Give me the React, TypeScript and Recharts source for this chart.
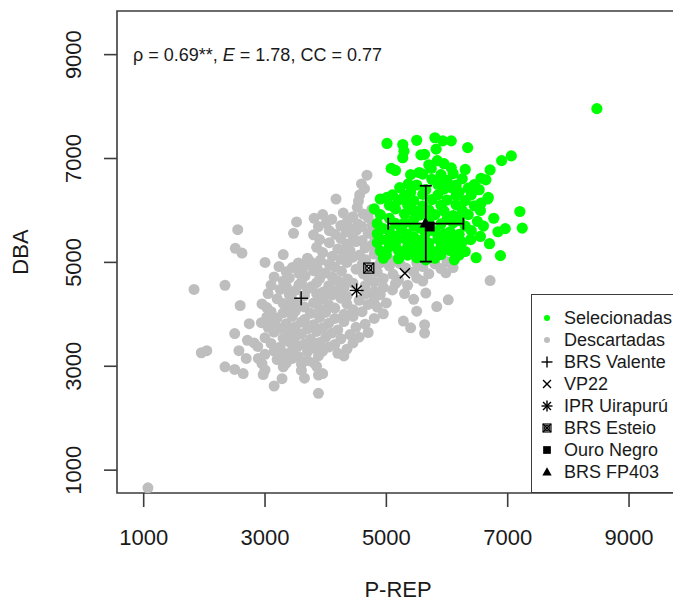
import React from 'react';
import { ScatterChart, Scatter, XAxis, YAxis, ReferenceArea, Legend } from 'recharts';

const FONT = '"Liberation Sans", Arial, Helvetica, sans-serif';
const GREEN = '#00FF00';
const GREY = '#BEBEBE';
const FRAME = '#3c3c3c';

const axisTicks = [1000, 3000, 5000, 7000, 9000];
const axisDomain: [number, number] = [560, 9840];

// Descartadas (grey) — [P-REP, DBA]
const descartadas: [number, number][] = [
  [4680,6680],[4590,6510],[4640,6420],[4560,6300],[4170,6220],[4540,6180],[4520,6060],[4760,6020],[3950,5920],[4290,5950],
  [4450,5880],[4620,5930],[3810,5850],[4100,5830],[4360,5800],[4700,5860],[3520,5780],[4010,5760],[4530,5740],[3880,5690],
  [4250,5710],[4400,5650],[4600,5690],[4770,5720],[2550,5630],[4060,5610],[4340,5590],[4510,5620],[3470,5560],[3800,5530],
  [4160,5540],[4450,5500],[4700,5560],[3900,5440],[4250,5460],[4600,5420],[4810,5480],[4060,5380],[4350,5350],[4500,5400],
  [4760,5330],[2510,5270],[3850,5290],[4200,5260],[4400,5230],[4650,5280],[4870,5240],[2620,5180],[3300,5150],[3950,5190],
  [4110,5120],[4300,5170],[4560,5140],[4800,5160],[3700,5080],[3910,5040],[4250,5060],[4450,5100],[4660,5050],[4920,5080],
  [5100,5030],[3000,5000],[3550,4990],[3750,5010],[4060,4970],[4350,5000],[4600,4960],[4900,4990],[5220,4980],[5500,5000],
  [5800,4970],[6000,5010],[3230,4920],[3450,4900],[3650,4930],[3860,4880],[4150,4910],[4500,4870],[4800,4900],[5050,4930],
  [5320,4890],[5600,4920],[5900,4880],[6100,4900],[3350,4820],[3560,4790],[3800,4840],[4000,4800],[4260,4830],[4620,4780],
  [4850,4810],[5110,4770],[5450,4820],[5700,4780],[5980,4800],[3150,4720],[3400,4700],[3660,4740],[3900,4690],[4110,4720],
  [4360,4680],[4700,4710],[4950,4690],[5200,4660],[5500,4700],[3300,4640],[3600,4620],[3850,4610],[4200,4640],[4450,4600],
  [4800,4620],[5150,4590],[5600,4640],[6710,4650],[2340,4560],[3100,4560],[3350,4540],[3560,4570],[3760,4530],[4050,4550],
  [4300,4510],[4650,4550],[4950,4520],[5350,4560],[1830,4480],[3250,4480],[3500,4460],[3700,4490],[3960,4430],[4200,4470],
  [4800,4440],[5100,4470],[3050,4400],[3400,4380],[3650,4360],[3850,4400],[4100,4370],[4350,4350],[4650,4390],[4900,4380],
  [5300,4400],[5650,4410],[3200,4300],[3450,4280],[3950,4290],[4250,4310],[4550,4270],[4800,4300],[5450,4290],[2950,4200],
  [3300,4210],[3550,4190],[3800,4220],[4050,4180],[4350,4200],[4700,4190],[5000,4220],[5830,4150],[2590,4170],[3030,4130],
  [3400,4110],[3650,4140],[3900,4100],[4150,4120],[4450,4090],[4850,4140],[6020,4280],[3100,4050],[3300,4030],[3500,4060],
  [3750,4020],[4000,4040],[4300,4000],[4600,4050],[4950,4010],[5500,4060],[3030,3950],[3200,3930],[3450,3960],[3650,3900],
  [3900,3940],[4150,3920],[4450,3960],[4800,3920],[2740,3820],[2940,3840],[3150,3860],[3350,3820],[3600,3850],[3800,3800],
  [4050,3830],[4300,3860],[4650,3810],[5280,3870],[5630,3800],[3050,3750],[3250,3730],[3500,3760],[3700,3720],[3950,3740],
  [4200,3700],[4500,3750],[5400,3740],[2500,3630],[3150,3660],[3400,3640],[3600,3620],[3850,3670],[4100,3640],[4400,3610],
  [4700,3650],[5630,3640],[3000,3550],[3300,3540],[3500,3570],[3750,3520],[4000,3560],[4250,3530],[4550,3560],[2710,3500],
  [2820,3450],[3100,3440],[3400,3470],[3650,3430],[3900,3460],[4150,3420],[4450,3450],[2880,3380],[3250,3370],[3550,3390],
  [3800,3350],[4050,3370],[4350,3330],[2040,3300],[2570,3300],[3150,3290],[3450,3310],[3700,3280],[3950,3290],[4200,3250],
  [1950,3260],[3000,3230],[3350,3240],[3250,3180],[3550,3190],[3880,3200],[4300,3200],[2690,3150],[2890,3150],[3200,3130],
  [3450,3150],[3700,3110],[2950,3050],[3350,3060],[3600,3040],[3800,3070],[2340,2990],[3300,2990],[3850,3000],[2500,2940],
  [3000,2930],[3600,2920],[2640,2860],[2970,2840],[3880,2830],[3950,2860],[3280,2760],[3650,2770],[3150,2620],[3880,2480],
  [1070,660],
];

// Selecionadas (green) — [P-REP, DBA]
const selecionadas: [number, number][] = [
  [8470,7960],[5800,7400],[5500,7350],[5930,7340],[6070,7340],[5010,7290],[5270,7270],[6340,7210],[5820,7180],[5290,7140],
  [5570,7070],[5630,7080],[7060,7050],[5270,7015],[5840,6960],[6900,6960],[5950,6900],[5700,6880],[6070,6820],[5080,6810],
  [5740,6810],[6300,6790],[6710,6780],[5150,6770],[5540,6730],[5400,6690],[5600,6700],[5900,6690],[6100,6710],[6560,6620],
  [5750,6600],[6000,6580],[6250,6610],[6640,6590],[5360,6510],[5500,6490],[5850,6500],[6150,6490],[6450,6500],[5220,6440],
  [6070,6440],[6350,6430],[5650,6400],[5950,6410],[6530,6400],[5400,6350],[6200,6350],[5100,6300],[5300,6290],[5600,6310],
  [5850,6300],[6150,6290],[6400,6300],[5010,6250],[6680,6250],[4900,6220],[6670,6220],[5200,6200],[5450,6190],[5750,6210],
  [6000,6200],[6300,6190],[6560,6140],[5050,6100],[5350,6110],[5600,6090],[5900,6100],[6150,6110],[6450,6090],[4800,6030],
  [5150,6030],[5450,6000],[5700,6010],[5950,5990],[6250,6000],[6550,6000],[7200,5980],[4900,5920],[5300,5930],[5550,5910],
  [5800,5920],[6100,5900],[6350,5920],[5050,5850],[6770,5850],[5450,5820],[5700,5810],[6000,5830],[6200,5810],[6500,5790],
  [4850,5750],[5150,5750],[5300,5760],[5900,5740],[6100,5760],[5450,5700],[6300,5700],[6600,5700],[7240,5660],[4950,5650],
  [5250,5640],[5550,5660],[6960,5650],[5050,5600],[5800,5600],[6050,5590],[6400,5610],[6840,5590],[4850,5550],[5350,5540],
  [5650,5560],[5950,5550],[6200,5540],[5150,5500],[5450,5490],[6550,5500],[6390,5440],[4900,5450],[5000,5430],[5300,5460],
  [5600,5440],[5850,5450],[6100,5460],[6700,5360],[4850,5380],[5150,5370],[5450,5390],[5700,5370],[6000,5380],[6250,5390],
  [5050,5300],[5350,5290],[5600,5310],[5900,5300],[6150,5310],[4900,5220],[5200,5230],[5500,5210],[5750,5220],[6050,5230],
  [6300,5210],[5000,5150],[5350,5140],[5650,5160],[5900,5150],[6200,5140],[6880,5130],[6480,5090],[4950,5080],[5200,5070],
  [5500,5090],[5800,5080],[6120,5050],[5650,5050],
];

// Check cultivars
const testemunhaNames = ['BRS Valente', 'VP22', 'IPR Uirapurú', 'BRS Esteio', 'Ouro Negro', 'BRS FP403'];
const testemunhaX = [3595, 5305, 4510, 4710, 5715, 5645];
const testemunhaY = [4310, 4790, 4460, 4890, 5690, 5760];
const testemunhaSymbols = ['plus', 'cross', 'asterisk', 'boxx', 'square', 'triangle'];

// Mean ± SD of the selected group
const mediaX = 5650;
const mediaY = 5745;
const desvioX = 620;
const desvioY = 730;

const legendLabels = ['Selecionadas', 'Descartadas', ...testemunhaNames];
const legendSymbols = ['dotGreen', 'dotGrey', ...testemunhaSymbols];

const annotationText = { rho: 'ρ = 0.69**, ', e: 'E', rest: ' = 1.78, CC = 0.77' };

const greyData = descartadas.map(([x, y]) => ({ x, y }));
const greenData = selecionadas.map(([x, y]) => ({ x, y }));
const checkData = testemunhaNames.map((name, i) => ({ name, x: testemunhaX[i], y: testemunhaY[i], sym: testemunhaSymbols[i] }));
const errBarH = [
  { x: mediaX - desvioX, y: mediaY },
  { x: mediaX + desvioX, y: mediaY },
];
const errBarV = [
  { x: mediaX, y: mediaY - desvioY },
  { x: mediaX, y: mediaY + desvioY },
];

function drawSymbol(sym: string, cx: number, cy: number, s: number) {
  const sw = 1.4;
  switch (sym) {
    case 'plus':
      return (
        <g stroke="#000" strokeWidth={sw}>
          <line x1={cx - s} y1={cy} x2={cx + s} y2={cy} />
          <line x1={cx} y1={cy - s} x2={cx} y2={cy + s} />
        </g>
      );
    case 'cross': {
      const d = s * 0.72;
      return (
        <g stroke="#000" strokeWidth={sw}>
          <line x1={cx - d} y1={cy - d} x2={cx + d} y2={cy + d} />
          <line x1={cx - d} y1={cy + d} x2={cx + d} y2={cy - d} />
        </g>
      );
    }
    case 'asterisk': {
      const d = s * 0.72;
      return (
        <g stroke="#000" strokeWidth={sw}>
          <line x1={cx - s} y1={cy} x2={cx + s} y2={cy} />
          <line x1={cx} y1={cy - s} x2={cx} y2={cy + s} />
          <line x1={cx - d} y1={cy - d} x2={cx + d} y2={cy + d} />
          <line x1={cx - d} y1={cy + d} x2={cx + d} y2={cy - d} />
        </g>
      );
    }
    case 'boxx': {
      const d = s * 0.72;
      return (
        <g stroke="#000" strokeWidth={1.2} fill="none">
          <rect x={cx - d} y={cy - d} width={2 * d} height={2 * d} />
          <line x1={cx - d} y1={cy - d} x2={cx + d} y2={cy + d} />
          <line x1={cx - d} y1={cy + d} x2={cx + d} y2={cy - d} />
          <circle cx={cx} cy={cy} r={d * 0.6} />
        </g>
      );
    }
    case 'square': {
      const d = s * 0.7;
      return <rect x={cx - d} y={cy - d} width={2 * d} height={2 * d} fill="#000" />;
    }
    case 'triangle': {
      const d = s * 0.85;
      return <path d={`M${cx},${cy - d} L${cx + d},${cy + d * 0.75} L${cx - d},${cy + d * 0.75} Z`} fill="#000" />;
    }
    case 'dotGreen':
      return <circle cx={cx} cy={cy} r={s * 0.55} fill={GREEN} />;
    case 'dotGrey':
      return <circle cx={cx} cy={cy} r={s * 0.55} fill={GREY} />;
    default:
      return null;
  }
}

const greyDot = (p: any) => <circle cx={p.cx} cy={p.cy} r={5.5} fill={GREY} />;
const greenDot = (p: any) => <circle cx={p.cx} cy={p.cy} r={5.6} fill={GREEN} />;
const checkShape = (p: any) => drawSymbol(p.payload.sym, p.cx, p.cy, 7);
const capVertical = (p: any) => (
  <line x1={p.cx} y1={p.cy - 6} x2={p.cx} y2={p.cy + 6} stroke="#000" strokeWidth={1.8} />
);
const capHorizontal = (p: any) => (
  <line x1={p.cx - 6} y1={p.cy} x2={p.cx + 6} y2={p.cy} stroke="#000" strokeWidth={1.8} />
);

const XTick = (p: any) => (
  <text x={p.x} y={p.y + 38} textAnchor="middle" fontSize={22} fontFamily={FONT} fill="#1a1a1a">
    {p.payload.value}
  </text>
);

const YTick = (p: any) => {
  const cx = p.x - 30;
  const cy = p.y;
  return (
    <text
      x={cx}
      y={cy}
      transform={`rotate(-90 ${cx} ${cy})`}
      textAnchor="middle"
      dominantBaseline="central"
      fontSize={22}
      fontFamily={FONT}
      fill="#1a1a1a"
    >
      {p.payload.value}
    </text>
  );
};

const LegendBox = () => (
  <div
    style={{
      position: 'relative',
      width: 170,
      height: 199,
      boxSizing: 'border-box',
      border: `1.6px solid ${FRAME}`,
      background: '#fff',
      fontFamily: FONT,
      fontSize: 18,
      color: '#1a1a1a',
    }}
  >
    {legendLabels.map((label, i) => (
      <div key={label} style={{ position: 'absolute', left: 0, top: 12 + i * 22, height: 22, width: 170 }}>
        <svg width={30} height={22} style={{ position: 'absolute', left: 0, top: 0 }}>
          {drawSymbol(legendSymbols[i], 15, 11, 5.5)}
        </svg>
        <span style={{ position: 'absolute', left: 32, top: 0, lineHeight: '22px', whiteSpace: 'nowrap' }}>{label}</span>
      </div>
    ))}
  </div>
);

export default function App() {
  return (
    <div style={{ position: 'fixed', left: 0, top: 0, width: 673, height: 601, overflow: 'hidden', background: '#fff' }}>
      <ScatterChart width={700} height={601} margin={{ top: 11, right: 20, bottom: 0, left: 0 }}>
        <XAxis
          type="number"
          dataKey="x"
          domain={axisDomain}
          ticks={axisTicks}
          allowDataOverflow
          axisLine={false}
          tickSize={14}
          tickMargin={0}
          tickLine={{ stroke: FRAME, strokeWidth: 1.6 }}
          tick={XTick}
          height={108}
        />
        <YAxis
          type="number"
          dataKey="y"
          domain={axisDomain}
          ticks={axisTicks}
          allowDataOverflow
          axisLine={false}
          tickSize={13}
          tickMargin={0}
          tickLine={{ stroke: FRAME, strokeWidth: 1.6 }}
          tick={YTick}
          width={117}
        />
        <Scatter name="Descartadas" data={greyData} shape={greyDot} isAnimationActive={false} />
        <Scatter name="Selecionadas" data={greenData} shape={greenDot} isAnimationActive={false} />
        <Scatter name="Testemunhas" data={checkData} shape={checkShape} isAnimationActive={false} />
        <Scatter
          name="Desvio P-REP"
          data={errBarH}
          line={{ stroke: '#000', strokeWidth: 1.8 }}
          shape={capVertical}
          isAnimationActive={false}
        />
        <Scatter
          name="Desvio DBA"
          data={errBarV}
          line={{ stroke: '#000', strokeWidth: 1.8 }}
          shape={capHorizontal}
          isAnimationActive={false}
        />
        <ReferenceArea
          x1={axisDomain[0]}
          x2={axisDomain[1]}
          y1={axisDomain[0]}
          y2={axisDomain[1]}
          fill="none"
          stroke={FRAME}
          strokeWidth={1.6}
          ifOverflow="visible"
        />
        <Legend
          layout="vertical"
          align="center"
          verticalAlign="middle"
          content={LegendBox}
          wrapperStyle={{ left: 531, top: 294, width: 170, height: 199 }}
        />
      </ScatterChart>
      <div
        style={{
          position: 'absolute',
          left: 133,
          top: 45,
          fontFamily: FONT,
          fontSize: 18,
          lineHeight: '20px',
          color: '#1a1a1a',
          whiteSpace: 'nowrap',
        }}
      >
        {annotationText.rho}
        <i>{annotationText.e}</i>
        {annotationText.rest}
      </div>
      <div
        style={{
          position: 'absolute',
          left: 21,
          top: 252,
          transform: 'translate(-50%, -50%) rotate(-90deg)',
          fontFamily: FONT,
          fontSize: 22,
          color: '#1a1a1a',
          whiteSpace: 'nowrap',
        }}
      >
        DBA
      </div>
      <div
        style={{
          position: 'absolute',
          left: 398,
          top: 590,
          transform: 'translate(-50%, -50%)',
          fontFamily: FONT,
          fontSize: 22,
          color: '#1a1a1a',
          whiteSpace: 'nowrap',
        }}
      >
        P-REP
      </div>
    </div>
  );
}
